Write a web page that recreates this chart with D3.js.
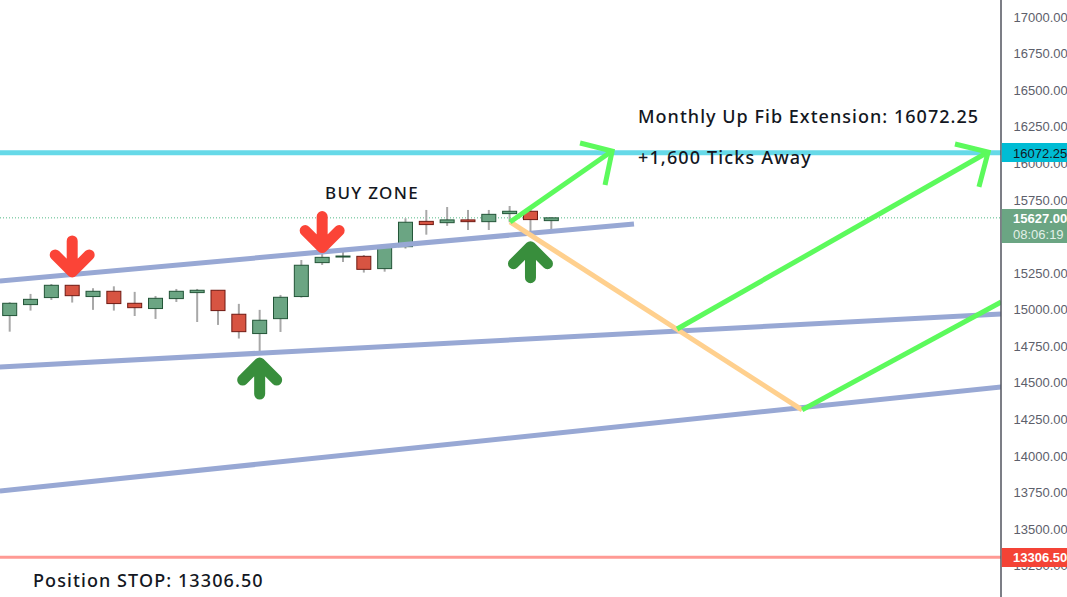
<!DOCTYPE html>
<html><head><meta charset="utf-8">
<script src="https://cdn.jsdelivr.net/npm/d3@7/dist/d3.min.js"></script>
<style>html,body{margin:0;padding:0;background:#fff;overflow:hidden}svg{display:block}</style>
</head><body><svg id="c" width="1067" height="597"></svg>
<script>
// Candles, in bar order: open, high, low, close (price)
const opens  = [14959,15034,15082,15166,15089,15125,15043,15007,15075,15116,15132,14968,14836,14938,15089,15321,15360,15364,15280,15430,15603,15594,15613,15601,15656,15672,15608];
const highs  = [15050,15107,15175,15166,15146,15159,15121,15093,15141,15141,15132,15039,14998,15100,15339,15385,15398,15373,15446,15624,15681,15701,15681,15681,15708,15697,15631];
const lows   = [14849,14993,15066,15048,14998,14993,14956,14936,15052,14915,14895,14802,14706,14847,15082,15305,15325,15253,15259,15417,15512,15572,15544,15544,15597,15521,15544];
const closes = [15043,15070,15166,15095,15125,15041,15013,15077,15125,15132,14993,14849,14927,15084,15303,15357,15366,15275,15426,15597,15581,15613,15601,15651,15672,15615,15627];

// Drawn trend lines: [bar, price] end points
const channelLines = [
  [[-0.47,15196],[29.97,15585]],
  [[-0.47,14608],[47.6,14970]],
  [[-0.47,13760],[47.6,14471]]
];
const orangeLine = [[24.02,15599],[38.04,14314]];
const greenLines = [
  [[24.02,15599],[28.92,16084]],
  [[27.38,16139],[28.92,16084],[28.58,15852]],
  [[32.04,14867],[46.97,16077]],
  [[45.38,16132],[46.97,16077],[46.53,15838]],
  [[38.04,14314],[47.6,15052]]
];
// Arrow markers: bar, tip price
const redArrows = [[3,15223],[15,15390]];
const greenArrows = [[12,14669],[25,15464]];

const targetPrice = 16072.25, lastPrice = 15627.00, stopPrice = 13306.50;
const countdown = "08:06:19";
const tickValues = [17000,16750,16500,16250,16000,15750,15250,15000,14750,14500,14250,14000,13750,13500,13250];
const labelTexts = {
  target:"Monthly Up Fib Extension: 16072.25",
  ticks:"+1,600 Ticks Away",
  buy:"BUY ZONE",
  stop:"Position STOP: 13306.50"
};

const W=1067,H=597,axisX=1001;
const svg=d3.select("#c");
const x=d3.scaleLinear().domain([0,26]).range([9.7,551.3]);
const y=d3.scaleLinear().domain([17000,13500]).range([17,529]);
const FONT="'Noto Sans',sans-serif";
const AX="'Liberation Sans',Arial,sans-serif";

svg.append("defs").append("clipPath").attr("id","plot").append("rect")
  .attr("x",0).attr("y",0).attr("width",axisX).attr("height",H);
const plot=svg.append("g").attr("clip-path","url(#plot)");

// last price dotted line
plot.append("line").attr("x1",0).attr("x2",axisX).attr("y1",y(lastPrice)).attr("y2",y(lastPrice))
  .attr("stroke","#53b987").attr("stroke-dasharray","1 2").attr("stroke-width",1);

// candles
const idx=d3.range(opens.length);
const UP="#6ba583",DN="#d75442";
const g=plot.append("g");
g.selectAll("line").data(idx).join("line")
  .attr("x1",i=>x(i)).attr("x2",i=>x(i)).attr("y1",i=>y(highs[i])).attr("y2",i=>y(lows[i]))
  .attr("stroke","#a8a8a8").attr("stroke-width",2);
g.selectAll("rect").data(idx).join("rect")
  .attr("x",i=>x(i)-7).attr("width",14)
  .attr("y",i=>y(Math.max(opens[i],closes[i])))
  .attr("height",i=>Math.max(1,Math.abs(y(opens[i])-y(closes[i]))))
  .attr("fill",i=>closes[i]>=opens[i]?UP:DN)
  .attr("stroke",i=>closes[i]>=opens[i]?"#225437":"#6f1912").attr("stroke-width",1);

const line=d3.line().x(d=>x(d[0])).y(d=>y(d[1]));
plot.selectAll(".chan").data(channelLines).join("path").attr("class","chan")
  .attr("d",line).attr("fill","none").attr("stroke","#98a8d4").attr("stroke-width",5);

// horizontal levels
plot.append("line").attr("x1",0).attr("x2",axisX).attr("y1",y(targetPrice)).attr("y2",y(targetPrice))
  .attr("stroke","#66d9e8").attr("stroke-width",5);
plot.append("line").attr("x1",0).attr("x2",axisX).attr("y1",y(stopPrice)).attr("y2",y(stopPrice))
  .attr("stroke","#ff9a94").attr("stroke-width",3);

plot.append("path").attr("d",line(orangeLine)).attr("fill","none").attr("stroke","#ffd08e").attr("stroke-width",5);
plot.selectAll(".gr").data(greenLines).join("path").attr("class","gr")
  .attr("d",line).attr("fill","none").attr("stroke","#5cfa5c").attr("stroke-width",5).attr("stroke-linejoin","miter");

// arrows
function arrow(sel,data,color,dir){
  // dir=+1 points down, -1 points up
  sel.selectAll(null).data(data).join("path")
    .attr("d",d=>{
      const tx=x(d[0]),ty=y(d[1]);
      const p=d3.path();
      p.moveTo(tx,ty-dir*36);p.lineTo(tx,ty-dir*5);
      p.moveTo(tx-17,ty-dir*22);p.lineTo(tx,ty-dir*5);p.lineTo(tx+17,ty-dir*22);
      return p.toString();
    })
    .attr("fill","none").attr("stroke",color).attr("stroke-width",11)
    .attr("stroke-linecap","round").attr("stroke-linejoin","round");
}
arrow(plot,redArrows,"#fb4437",1);
arrow(plot,greenArrows,"#388e3c",-1);

// annotations
const txt=(s,px,py,size)=>svg.append("text").text(s).attr("x",px).attr("y",py)
  .attr("font-family",FONT).attr("font-size",size).attr("font-weight",500).attr("fill","#131722");
txt(labelTexts.target,638,123,18).attr("letter-spacing",1.03);
txt(labelTexts.ticks,638,164,18).attr("letter-spacing",1.14);
txt(labelTexts.buy,325,199,17).attr("letter-spacing",1.3);
txt(labelTexts.stop,33,587,18).attr("letter-spacing",1.09);

// price axis
const ax=svg.append("g").attr("transform",`translate(${axisX},0)`)
  .call(d3.axisRight(y).tickValues(tickValues).tickFormat(d3.format(".2f")).tickSize(0).tickPadding(12.5));
ax.select(".domain").attr("d",`M0,0V${H}`).attr("stroke","#50535e").attr("stroke-width",1.5);
ax.selectAll("text").attr("font-family",AX).attr("font-size",13).attr("fill","#5d606b");

// price badges
function badge(price,top,bot,color,tc,weight){
  svg.append("rect").attr("x",axisX+.75).attr("y",top).attr("width",W-axisX).attr("height",bot-top).attr("fill",color);
  svg.append("text").text(d3.format(".2f")(price)).attr("x",1013).attr("y",y(price)+5)
    .attr("font-family",AX).attr("font-size",13).attr("font-weight",weight).attr("fill",tc);
}
badge(targetPrice,143,162,"#00bcd4","#131722","normal");
badge(stopPrice,548,567,"#f44336","#fff","bold");
badge(lastPrice,209,243,"#6ba583","#fff","bold");
svg.append("text").text(countdown).attr("x",1013).attr("y",239)
  .attr("font-family",AX).attr("font-size",13).attr("fill","#e2efe7");
</script></body></html>
